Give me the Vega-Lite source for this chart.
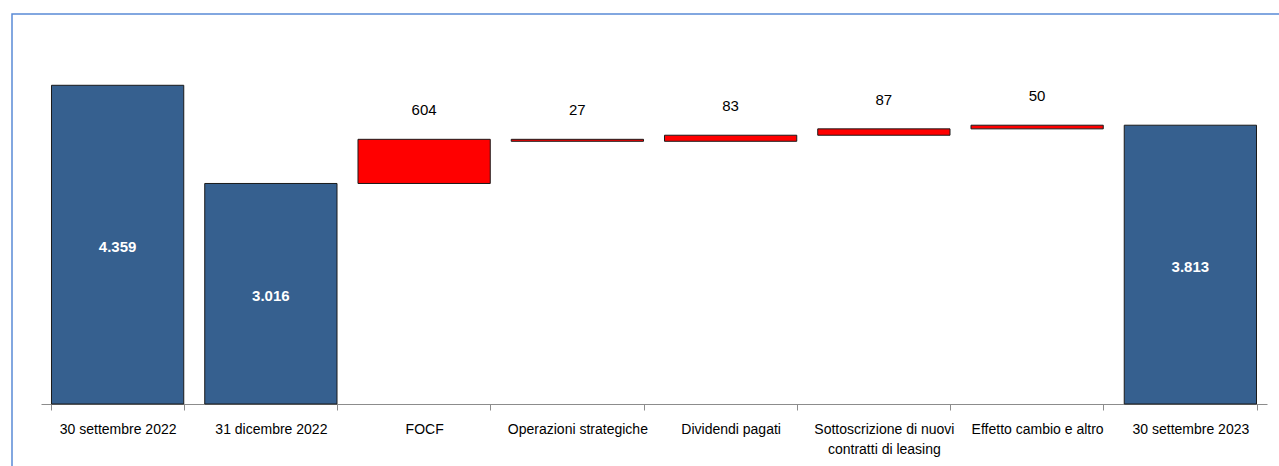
{
  "$schema": "https://vega.github.io/schema/vega-lite/v6.json",
  "width": 1300,
  "height": 480,
  "padding": {"left": 12, "top": 14, "right": 0, "bottom": 0},
  "autosize": {"type": "none"},
  "background": "white",
  "config": {
    "view": {"stroke": "#5a8ad6", "strokeWidth": 1.5},
    "font": "Liberation Sans, sans-serif"
  },
  "data": {
    "values": [
      {"cat": "30 settembre 2022", "start": 0, "end": 4359, "type": "total", "label": "4.359"},
      {"cat": "31 dicembre 2022", "start": 0, "end": 3016, "type": "total", "label": "3.016"},
      {"cat": "FOCF", "start": 3016, "end": 3620, "type": "delta", "label": "604"},
      {"cat": "Operazioni strategiche", "start": 3620, "end": 3593, "type": "delta", "label": "27"},
      {"cat": "Dividendi pagati", "start": 3593, "end": 3676, "type": "delta", "label": "83"},
      {"cat": "Sottoscrizione di nuovi contratti di leasing", "start": 3676, "end": 3763, "type": "delta", "label": "87"},
      {"cat": "Effetto cambio e altro", "start": 3763, "end": 3813, "type": "delta", "label": "50"},
      {"cat": "30 settembre 2023", "start": 0, "end": 3813, "type": "total", "label": "3.813"}
    ]
  },
  "transform": [
    {"calculate": "(datum.start + datum.end) / 2", "as": "mid"},
    {"calculate": "max(datum.start, datum.end)", "as": "top"}
  ],
  "encoding": {
    "x": {
      "field": "cat",
      "type": "nominal",
      "sort": null,
      "scale": {"range": [29, 1255], "paddingInner": 0.137, "paddingOuter": 0.0685},
      "axis": {
        "title": null,
        "orient": "bottom",
        "offset": -90,
        "labelAngle": 0,
        "tickBand": "extent",
        "tickSize": 6,
        "tickColor": "#8c8c8c",
        "domainColor": "#8c8c8c",
        "labelColor": "#000000",
        "labelFontSize": 14,
        "labelPadding": 12,
        "labelLimit": 0,
        "labelOverlap": false,
        "labelLineHeight": 20,
        "labelExpr": "datum.label == 'Sottoscrizione di nuovi contratti di leasing' ? ['Sottoscrizione di nuovi', 'contratti di leasing'] : datum.label"
      }
    }
  },
  "layer": [
    {
      "mark": {"type": "bar", "stroke": "#1a1a1a", "strokeWidth": 1},
      "encoding": {
        "y": {"field": "start", "type": "quantitative", "scale": {"domain": [0, 5334], "range": [390, 0], "nice": false}, "axis": null},
        "y2": {"field": "end"},
        "color": {"field": "type", "type": "nominal", "scale": {"domain": ["total", "delta"], "range": ["#36608f", "#ff0000"]}, "legend": null}
      }
    },
    {
      "transform": [{"filter": "datum.type == 'total'"}],
      "mark": {"type": "text", "color": "white", "fontWeight": "bold", "fontSize": 15, "baseline": "middle", "dy": 2},
      "encoding": {
        "y": {"field": "mid", "type": "quantitative"},
        "text": {"field": "label"}
      }
    },
    {
      "transform": [{"filter": "datum.type == 'delta'"}],
      "mark": {"type": "text", "color": "black", "fontSize": 15, "baseline": "middle", "dy": -29},
      "encoding": {
        "y": {"field": "top", "type": "quantitative"},
        "text": {"field": "label"}
      }
    }
  ]
}
